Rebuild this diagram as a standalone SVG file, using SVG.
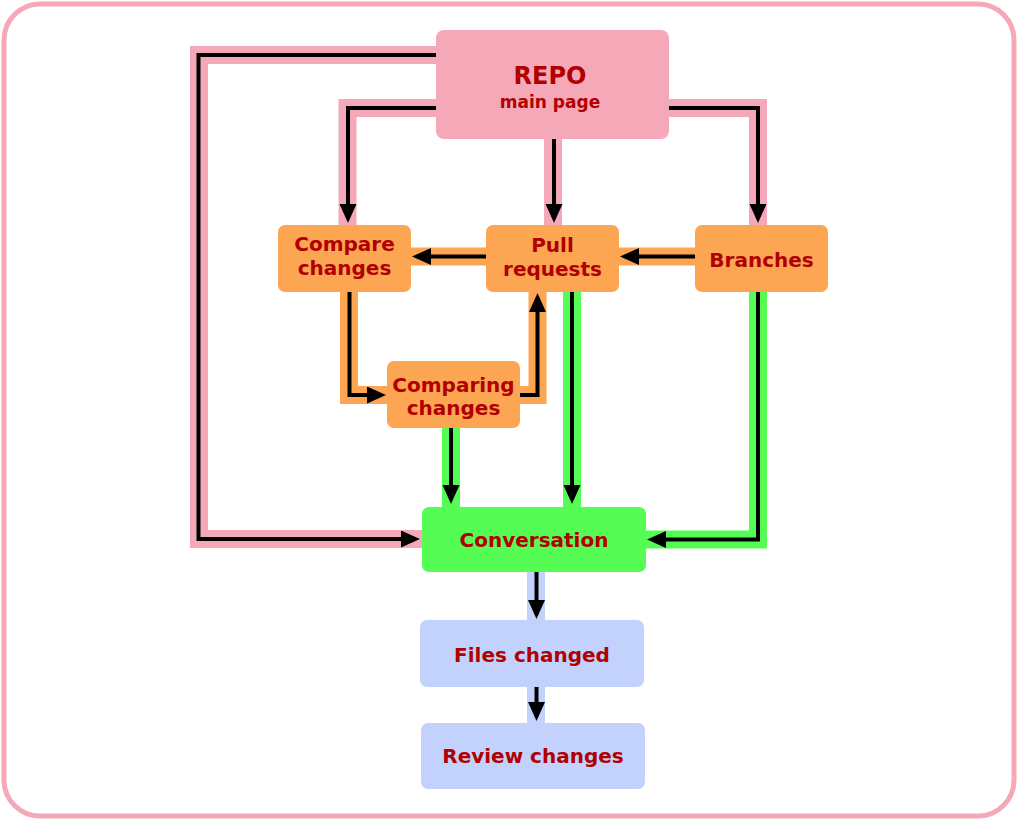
<svg xmlns="http://www.w3.org/2000/svg" width="1018" height="820" viewBox="0 0 1018 820">
<defs>
<style>
.band{fill:none;stroke-width:18;stroke-linejoin:miter;stroke-linecap:butt}
.pk{stroke:#f5a9b8}.or{stroke:#fca553}.gr{stroke:#54fc54}.bl{stroke:#c2d2fc}
.ln{fill:none;stroke:#000;stroke-width:4;stroke-linejoin:miter;marker-end:url(#ah)}
.t{font-family:"DejaVu Sans","Liberation Sans",sans-serif;font-weight:bold;fill:#b00000;text-anchor:middle;font-size:20px}
</style>
<marker id="ah" markerUnits="userSpaceOnUse" markerWidth="20" markerHeight="18" refX="14" refY="8.5" orient="auto">
<path d="M0,0 L19,8.5 L0,17 z" fill="#000"/>
</marker>
</defs>
<rect x="4" y="4" width="1010" height="812" rx="36" fill="#fff" stroke="#f5a9b8" stroke-width="5"/>
<g id="connectors">
<path class="band pk" d="M436,55 H199 V539 H422"/>
<path class="band pk" d="M436,108 H347.5 V225"/>
<path class="band pk" d="M553,139 V225"/>
<path class="band pk" d="M669,108 H758 V225"/>
<path class="band or" d="M695,256.5 H619"/>
<path class="band or" d="M486,256.5 H411"/>
<path class="band or" d="M349,292 V395 H387"/>
<path class="band or" d="M520,395 H537.5 V292"/>
<path class="band gr" d="M451,428 V507"/>
<path class="band gr" d="M572,292 V507"/>
<path class="band gr" d="M758,292 V539.5 H646"/>
<path class="band bl" d="M536,572 V620"/>
<path class="band bl" d="M536,687 V723"/>
<path class="ln" d="M436,55 H198.5 V539 H415"/>
<path class="ln" d="M436,108 H348 V218"/>
<path class="ln" d="M554,139 V218"/>
<path class="ln" d="M669,108 H758 V218"/>
<path class="ln" d="M695,256.5 H625"/>
<path class="ln" d="M486,256.5 H417"/>
<path class="ln" d="M349.5,292 V395 H381"/>
<path class="ln" d="M520,395 H537.5 V298"/>
<path class="ln" d="M451,428 V499"/>
<path class="ln" d="M572,292 V499"/>
<path class="ln" d="M758,292 V539.5 H652"/>
<path class="ln" d="M536.5,572 V614"/>
<path class="ln" d="M536.5,687 V716"/>
</g>
<g id="repo">
<rect x="436" y="30" width="233" height="109" rx="8" fill="#f5a9b8"/>
<text class="t" x="550" y="84" style="font-size:24px">REPO</text>
<text class="t" x="550" y="108" style="font-size:17px">main page</text>
</g>
<g id="compare">
<rect x="278" y="225" width="133" height="67" rx="7" fill="#fca553"/>
<text class="t" x="344.5" y="251">Compare</text>
<text class="t" x="344.5" y="275">changes</text>
</g>
<g id="pull">
<rect x="486" y="225" width="133" height="67" rx="7" fill="#fca553"/>
<text class="t" x="552.5" y="252">Pull</text>
<text class="t" x="552.5" y="276">requests</text>
</g>
<g id="branches">
<rect x="695" y="225" width="133" height="67" rx="7" fill="#fca553"/>
<text class="t" x="761.5" y="266.5">Branches</text>
</g>
<g id="comparing">
<rect x="387" y="361" width="133" height="67" rx="7" fill="#fca553"/>
<text class="t" x="453.5" y="391.5">Comparing</text>
<text class="t" x="453.5" y="415">changes</text>
</g>
<g id="conversation">
<rect x="422" y="507" width="224" height="65" rx="7" fill="#54fc54"/>
<text class="t" x="534" y="547">Conversation</text>
</g>
<g id="files">
<rect x="420" y="620" width="224" height="67" rx="7" fill="#c2d2fc"/>
<text class="t" x="532" y="661.5">Files changed</text>
</g>
<g id="review">
<rect x="421" y="723" width="224" height="66" rx="7" fill="#c2d2fc"/>
<text class="t" x="533" y="762.5">Review changes</text>
</g>
</svg>
